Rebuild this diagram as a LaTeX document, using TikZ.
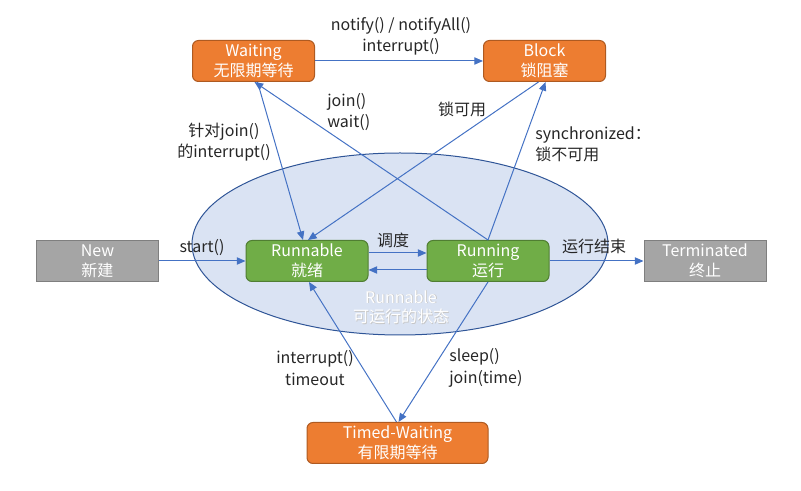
\documentclass[tikz,border=0pt]{standalone}
\usepackage{fontspec}
\setmainfont{Noto Sans CJK SC}
\usetikzlibrary{arrows.meta,calc,shapes.geometric}
\definecolor{orangeF}{HTML}{ED7D31}
\definecolor{orangeB}{HTML}{AE5A21}
\definecolor{greenF}{HTML}{70AD47}
\definecolor{greenB}{HTML}{507E32}
\definecolor{grayF}{HTML}{A5A5A5}
\definecolor{grayB}{HTML}{7F7F7F}
\definecolor{arrowC}{HTML}{4472C4}
\definecolor{ellF}{HTML}{DAE3F3}
\definecolor{ellB}{HTML}{2F5597}
\begin{document}
\begin{tikzpicture}[x=0.75pt,y=-0.75pt,
 state/.style={draw, line width=0.75pt, minimum width=91.5pt, minimum height=30.75pt, inner sep=0pt, align=center, text=white, font=\fontsize{12}{15}\selectfont},
 orangebox/.style={state, fill=orangeF, draw=orangeB, rounded corners=4.5pt},
 greenbox/.style={state, fill=greenF, draw=greenB, rounded corners=4.5pt},
 graybox/.style={state, fill=grayF, draw=grayB},
 conn/.style={draw=arrowC, line width=0.75pt, -{Triangle[length=6.5pt,width=5.5pt]}},
 lbl/.style={text=black!85, align=center, font=\fontsize{12}{16}\selectfont, inner sep=0pt},
 regionlbl/.style={inner sep=0pt, align=center, font=\fontsize{12}{14.5}\selectfont}]
\useasboundingbox (0,0) rectangle (801,491);
% ellipse region
\draw[fill=ellF, draw=ellB, line width=0.75pt] (400,244) ellipse [x radius=156pt, y radius=68.25pt];
\node[regionlbl, text=black!22] at (401.8,307.8) {Runnable\\可运行的状态};
\node[regionlbl, text=white] (rlabel) at (401,307) {Runnable\\可运行的状态};
% states
\node[orangebox] (wait) at (253.5,61) {Waiting\\无限期等待};
\node[orangebox] (block) at (544.5,61) {Block\\锁阻塞};
\node[graybox] (new) at (97.5,261) {New\\新建};
\node[greenbox] (runnable) at (307,261) {Runnable\\就绪};
\node[greenbox] (running) at (488,261) {Running\\运行};
\node[graybox] (term) at (705,261) {Terminated\\终止};
\node[orangebox, minimum width=135.75pt] (timed) at (397.5,443) {Timed-Waiting\\有限期等待};
% connectors
\draw[conn] (new.east) -- (runnable.west);
\draw[conn] ($(runnable.east)+(0,-8)$) -- ($(running.west)+(0,-8)$);
\draw[conn] ($(running.west)+(0,9)$) -- ($(runnable.east)+(0,9)$);
\draw[conn] (running.east) -- (term.west);
\draw[conn] (wait.east) -- (block.west);
\draw[conn] ($(wait.south)+(4,0)$) -- ($(runnable.north)+(-4,0)$);
\draw[conn] (running.north) -- ($(wait.south)+(1,0)$);
\draw[conn] ($(block.south)+(-6,0)$) -- ($(runnable.north)+(1,0)$);
\draw[conn] (running.north) -- ($(block.south)+(1,0)$);
\draw[conn] (running.south) -- ($(timed.north)+(1,0)$);
\draw[conn] ($(timed.north)+(-1,0)$) -- ($(runnable.south)+(2,0)$);
% labels
\node[lbl] (lnotify) at (401,36) {notify() / notifyAll()\\interrupt()};
\node[lbl] (linterjoin) at (224,142) {针对join()\\的interrupt()};
\node[lbl, align=left, anchor=west] (ljoin) at (327,112) {join()\\wait()};
\node[lbl] (llock) at (462,109) {锁可用};
\node[lbl, align=left, anchor=west] (lsync) at (535,144) {synchronized：\\锁不可用};
\node[lbl] (ltimeout) at (315,368) {interrupt()\\timeout};
\node[lbl, align=left, anchor=west] (lsleep) at (449,368) {sleep()\\join(time)};
\node[lbl] (lstart) at (202,248) {start()};
\node[lbl] (lsched) at (393,240) {调度};
\node[lbl] (lend) at (594,246) {运行结束};
\end{tikzpicture}
\end{document}
